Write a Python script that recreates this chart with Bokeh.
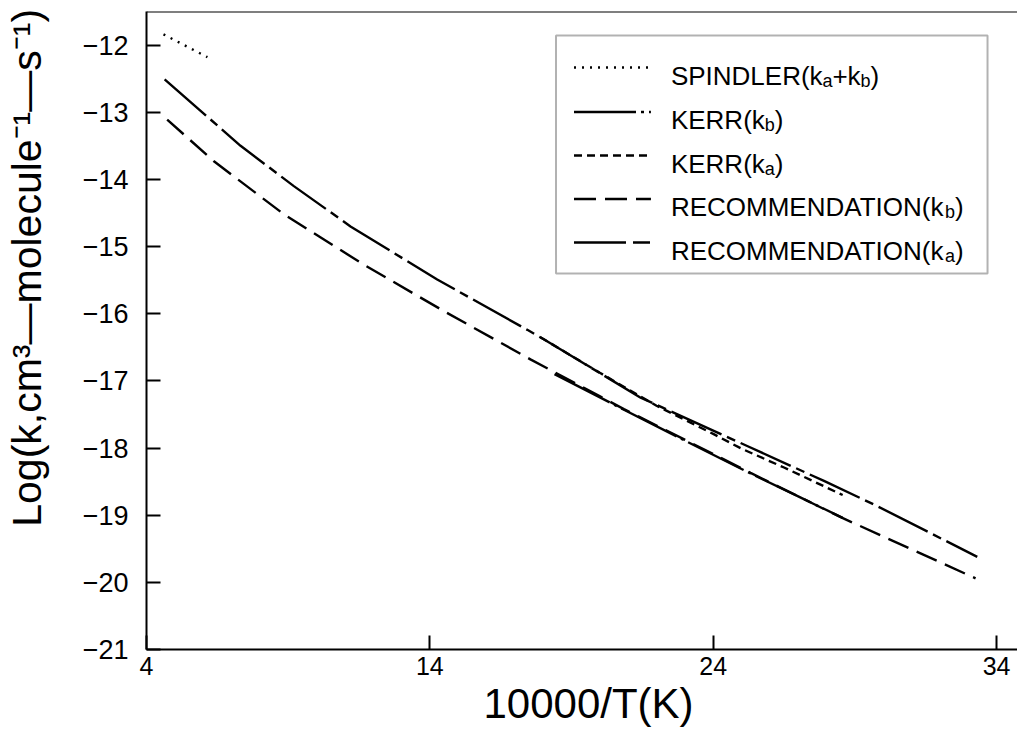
from bokeh.plotting import figure
from bokeh.models import FixedTicker, Label, BoxAnnotation, Span, Title
from bokeh.embed import file_html
from bokeh.resources import INLINE

# ---------------- data ----------------
spindler_x = [4.60, 6.15]
spindler_y = [-11.84, -12.18]

kerr_kb_x = [18.4, 20.85, 23.0, 25.32, 27.0, 28.57]
kerr_kb_y = [-16.90, -17.43, -17.89, -18.38, -18.72, -19.04]

kerr_ka_x = [17.9, 20.0, 22.0, 24.0, 25.0, 26.5, 28.57]
kerr_ka_y = [-16.35, -16.88, -17.37, -17.79, -18.01, -18.29, -18.70]

rec_kb_x = [4.73, 6.38, 8.85, 11.67, 14.49, 17.55, 20.85, 25.32, 28.50, 33.26]
rec_kb_y = [-13.11, -13.73, -14.52, -15.27, -15.96, -16.68, -17.42, -18.37, -19.03, -19.94]

rec_ka_x = [4.64, 7.32, 9.20, 11.20, 14.26, 17.44, 18.02, 21.44, 25.20, 27.91, 29.67, 33.32]
rec_ka_y = [-12.51, -13.50, -14.10, -14.70, -15.49, -16.24, -16.38, -17.25, -17.97, -18.49, -18.84, -19.62]

x_ticks = [4, 14, 24, 34]
y_ticks = [-21, -20, -19, -18, -17, -16, -15, -14, -13, -12]

x_title = "10000/T(K)"
y_title = "Log(k,cm³—molecule⁻¹—s⁻¹)"

# legend rows: list of (text, is_subscript)
legend_rows = [
    [("SPINDLER(k", False), ("a", True), ("+k", False), ("b", True), (")", False)],
    [("KERR(k", False), ("b", True), (")", False)],
    [("KERR(k", False), ("a", True), (")", False)],
    [("RECOMMENDATION(k", False), ("b", True), (")", False)],
    [("RECOMMENDATION(k", False), ("a", True), (")", False)],
]
legend_dashes = ["2 6", "62 5 3 5", "8 5", "22 9", "52 7 17 7"]

# ---------------- geometry ----------------
W, H = 1017, 731
FL, FT, FW, FH = 145, 11, 872, 638
X0, X1 = 4.0, 34.74
Y0, Y1 = -21.0, -11.5
FONT = "Liberation Sans"
LW = 2.4


def px2x(fx):
    return X0 + (fx - FL) / FW * (X1 - X0)


def py2y(fy):
    return Y1 - (fy - FT) / FH * (Y1 - Y0)


p = figure(width=W, height=H, x_range=(X0, X1), y_range=(Y0, Y1),
           output_backend="svg", toolbar_location=None,
           min_border_left=FL, min_border_right=0, min_border_top=FT,
           min_border_bottom=H - FT - FH)
p.outline_line_color = None
p.xgrid.visible = False
p.ygrid.visible = False
p.background_fill_color = "white"
p.border_fill_color = "white"

for ax in (p.xaxis[0], p.yaxis[0]):
    ax.axis_line_width = 2
    ax.axis_line_color = "black"
    ax.major_tick_line_width = 2
    ax.major_tick_line_color = "black"
    ax.major_tick_in = 14
    ax.major_tick_out = 0
    ax.minor_tick_line_color = None
    ax.major_label_text_font = FONT
    ax.major_label_text_color = "black"

p.xaxis.major_label_text_font_size = "25px"
p.yaxis.major_label_text_font_size = "27px"
p.xaxis.ticker = FixedTicker(ticks=x_ticks)
p.yaxis.ticker = FixedTicker(ticks=y_ticks)
p.xaxis.major_label_standoff = 7
p.yaxis.major_label_standoff = 18
p.yaxis.major_label_overrides = {t: ("−" + str(abs(t)) if t < 0 else str(t)) for t in y_ticks}

# x title: side title, shifted right along the axis
p.add_layout(Title(text=x_title, align="left", offset=337, standoff=0,
                   text_font=FONT, text_font_size="42px", text_font_style="normal",
                   text_color="black"), "below")

# y title: centred axis label, padded at its start with no-break spaces so
# that the visible text sits toward the top end of the axis
yax = p.yaxis[0]
yax.axis_label = "\u00a0" * 11 + y_title
yax.axis_label_standoff = 30
yax.axis_label_text_font = FONT
yax.axis_label_text_font_size = "41px"
yax.axis_label_text_font_style = "normal"
yax.axis_label_text_color = "black"

# top frame line
p.add_layout(Span(location=Y1, dimension="width", line_color="black", line_width=2))

# ---------------- curves ----------------
p.line(rec_ka_x, rec_ka_y, line_color="black", line_width=LW, line_dash="55 6 9 6")
p.line(rec_kb_x, rec_kb_y, line_color="black", line_width=LW, line_dash="22 9")
p.line(kerr_ka_x, kerr_ka_y, line_color="black", line_width=LW, line_dash="8 5")
p.line(kerr_kb_x, kerr_kb_y, line_color="black", line_width=LW, line_dash="62 5 3 5")
p.line(spindler_x, spindler_y, line_color="black", line_width=LW, line_dash="2 6")

# ---------------- legend ----------------
ARIAL = {'S': 667, 'P': 667, 'I': 278, 'N': 722, 'D': 722, 'L': 556, 'E': 667,
         'R': 722, '(': 333, ')': 333, 'k': 500, 'a': 556, 'b': 556, '+': 584,
         'K': 667, 'C': 722, 'O': 778, 'M': 833, 'A': 667, 'T': 611}


def tw(s, size):
    return sum(ARIAL.get(c, 556) for c in s) * size / 1000.0


p.add_layout(BoxAnnotation(left=px2x(555), right=px2x(987), top=py2y(35), bottom=py2y(273),
                           fill_alpha=0, line_color="black", line_width=2))

MAIN, SUB = 26, 18
baselines = [75, 119.5, 163, 206.5, 250]
for row, dash, by in zip(legend_rows, legend_dashes, baselines):
    ly = py2y(by - 8)
    p.line([px2x(573), px2x(650)], [ly, ly], line_color="black", line_width=LW, line_dash=dash)
    fx = 670
    for txt, sub in row:
        size = SUB if sub else MAIN
        yb = by + 5 if sub else by
        p.add_layout(Label(x=px2x(fx), y=py2y(yb), text=txt, text_font=FONT,
                           text_font_size=f"{size}px", text_align="left",
                           text_baseline="alphabetic", text_color="black"))
        fx += tw(txt, size)

open("out.html", "w").write(file_html(p, INLINE))
